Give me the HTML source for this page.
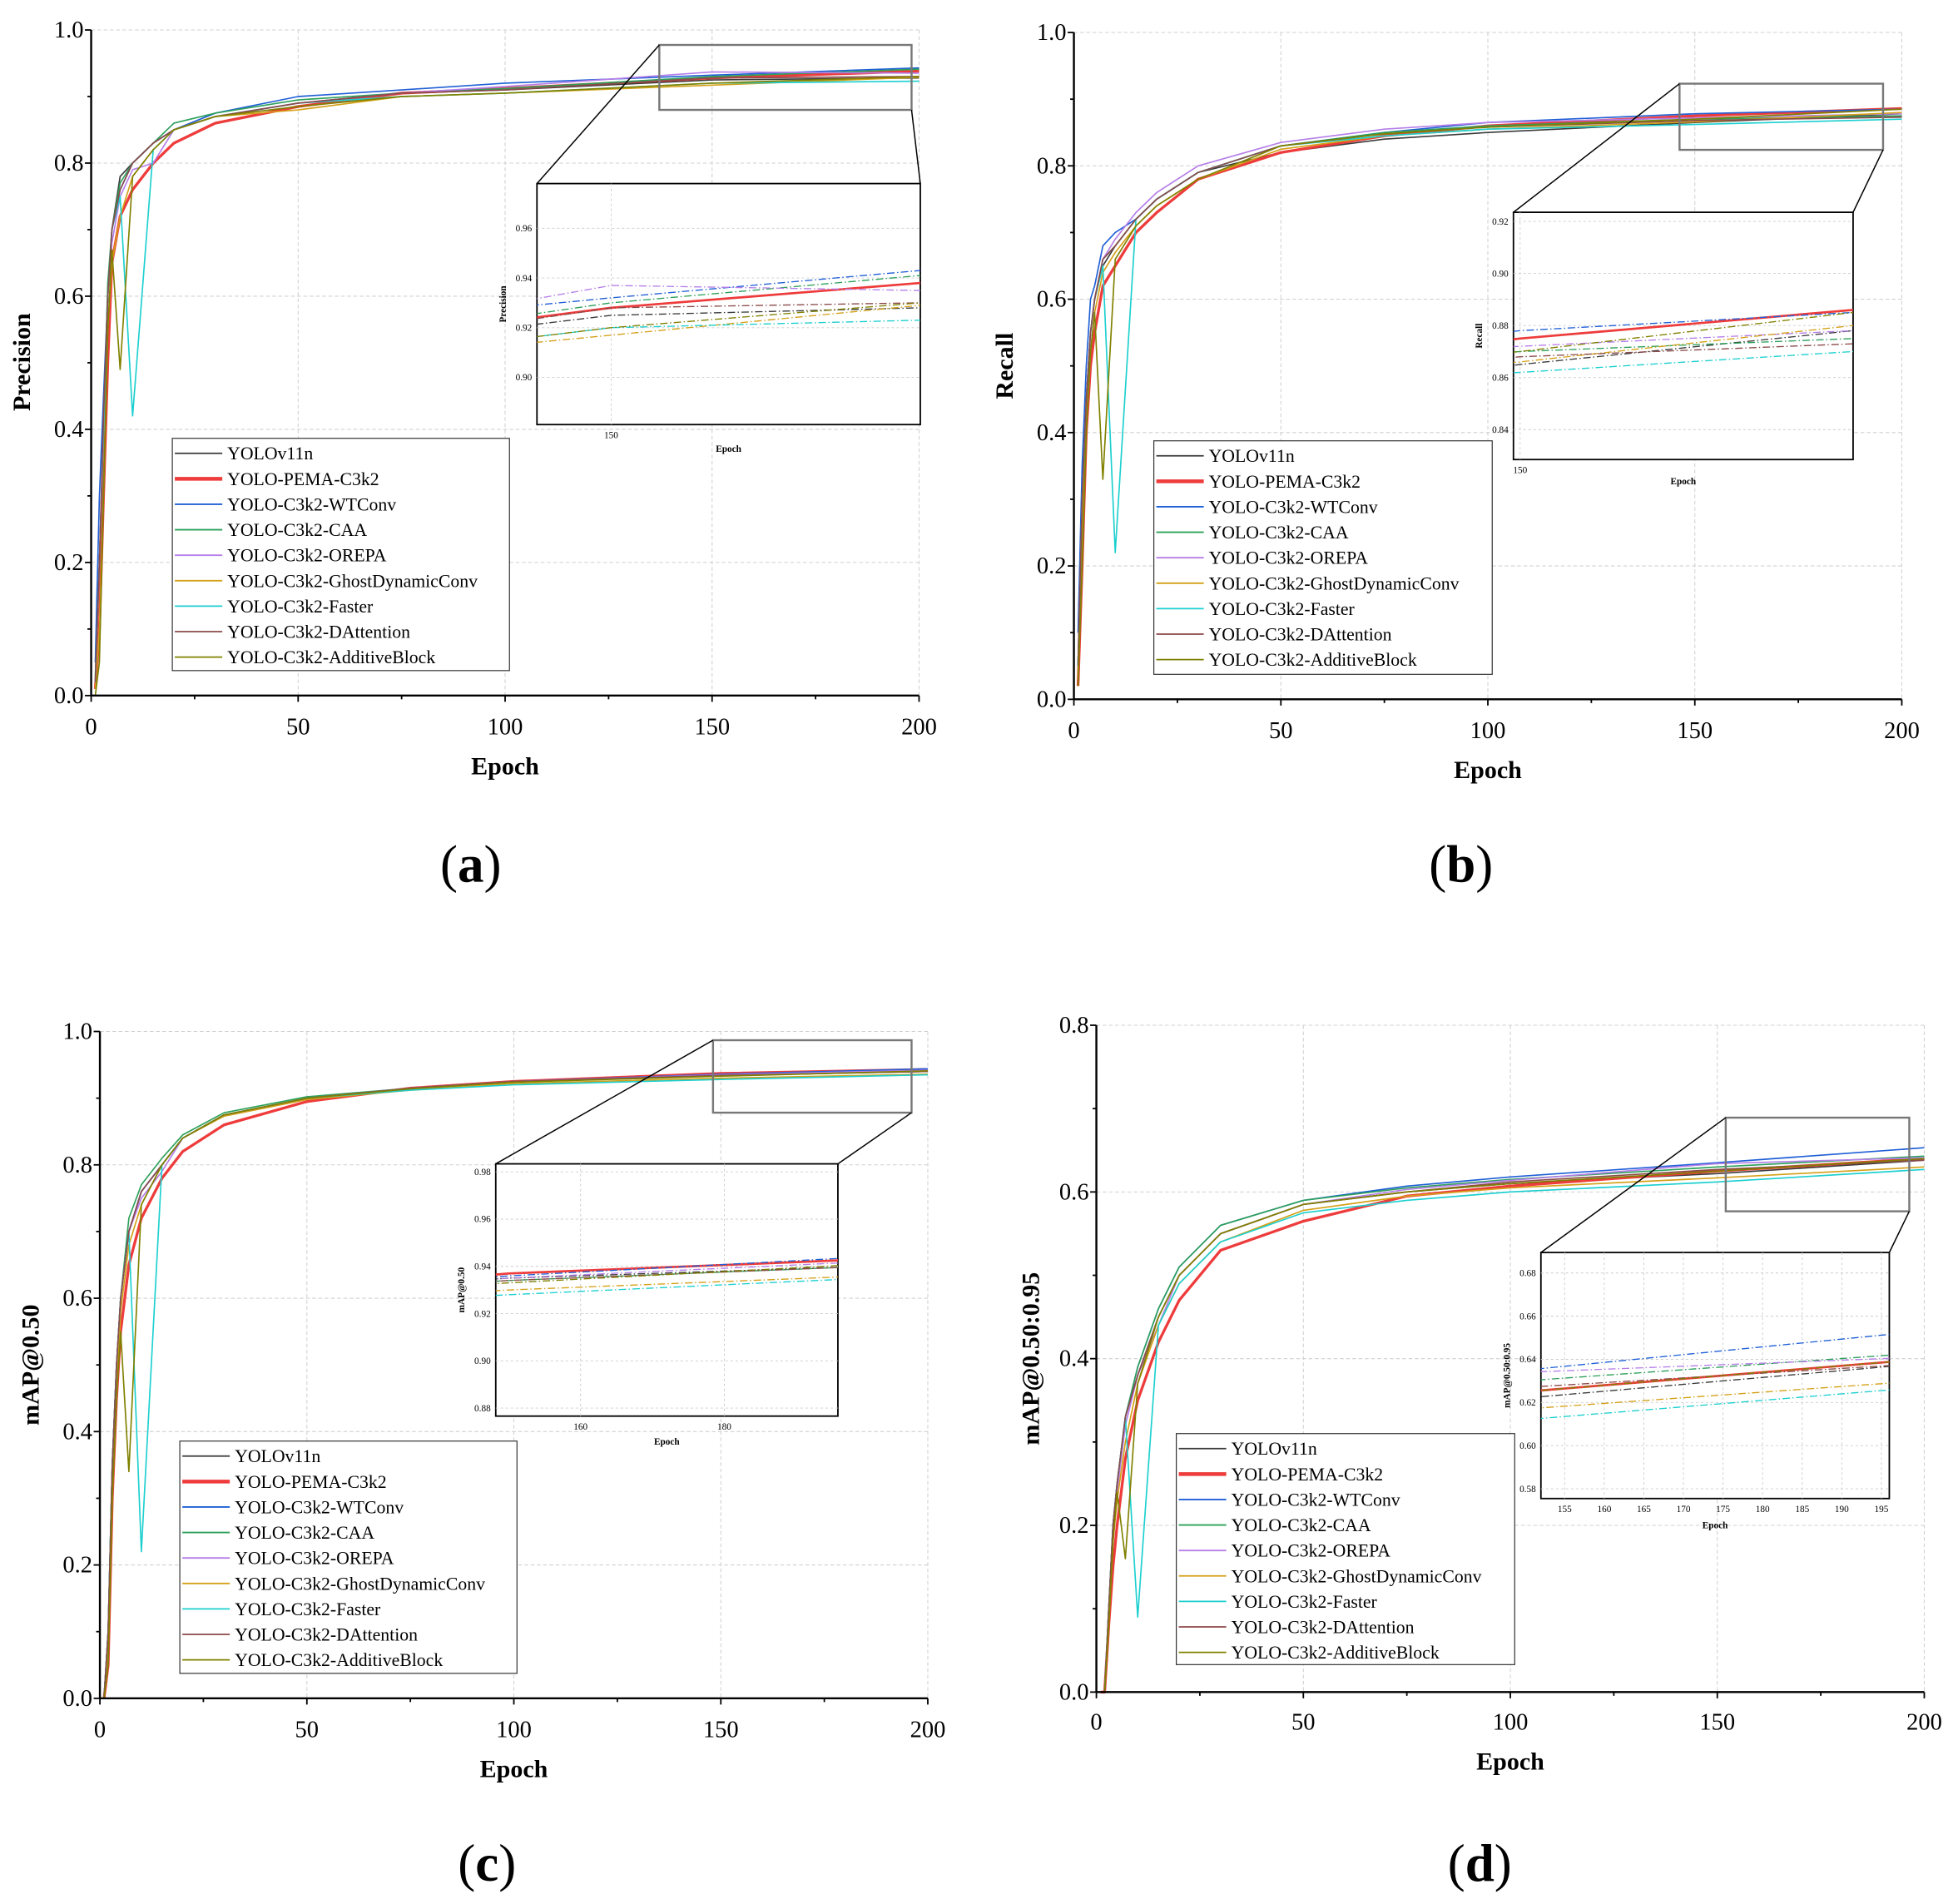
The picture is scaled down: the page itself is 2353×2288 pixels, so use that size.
<!DOCTYPE html>
<html><head><meta charset="utf-8"><style>
html,body{margin:0;padding:0;background:#fff;width:2353px;height:2288px;overflow:hidden;position:relative}
svg{display:block;position:absolute;left:0;top:0}
text{font-family:"Liberation Serif",serif;fill:#000}
</style></head><body>
<svg id="fig" width="2353" height="2288" viewBox="0 0 1568 1524.7" xmlns="http://www.w3.org/2000/svg"></svg>
<script>
const epochs=[1,2,3,4,5,7,10,15,20,30,50,75,100,150,200];
const seriesNames=["YOLOv11n","YOLO-PEMA-C3k2","YOLO-C3k2-WTConv","YOLO-C3k2-CAA","YOLO-C3k2-OREPA","YOLO-C3k2-GhostDynamicConv","YOLO-C3k2-Faster","YOLO-C3k2-DAttention","YOLO-C3k2-AdditiveBlock"];
const precisionV11n=[.02,.2,.4,.6,.7,.78,.8,.83,.85,.87,.89,.905,.91,.925,.928];
const precisionPema=[.01,.1,.3,.5,.65,.72,.76,.8,.83,.86,.885,.905,.912,.928,.938];
const precisionWt=[.05,.3,.45,.6,.7,.76,.8,.83,.85,.875,.9,.91,.92,.932,.943];
const precisionCaa=[.03,.2,.4,.62,.7,.77,.8,.83,.86,.875,.895,.905,.912,.93,.941];
const precisionOrepa=[.02,.2,.4,.6,.68,.75,.79,.8,.85,.87,.89,.905,.915,.937,.935];
const precisionGhost=[.01,.1,.3,.55,.65,.72,.78,.82,.85,.87,.88,.9,.905,.917,.929];
const precisionFaster=[.02,.2,.4,.6,.7,.75,.42,.82,.85,.87,.89,.9,.905,.92,.923];
const precisionDatt=[.02,.2,.42,.6,.7,.76,.8,.83,.85,.87,.89,.905,.91,.928,.93];
const precisionAdd=[0,.05,.3,.55,.67,.49,.78,.82,.85,.87,.885,.9,.905,.92,.93];
const recallV11n=[.05,.3,.45,.55,.6,.65,.68,.72,.75,.79,.82,.84,.85,.865,.878];
const recallPema=[.02,.2,.4,.5,.55,.62,.65,.7,.73,.78,.82,.845,.86,.875,.886];
const recallWt=[.1,.35,.5,.6,.62,.68,.7,.72,.75,.79,.83,.85,.865,.878,.885];
const recallCaa=[.05,.3,.45,.55,.6,.66,.68,.72,.75,.79,.83,.85,.86,.87,.875];
const recallOrepa=[.05,.3,.45,.55,.6,.66,.69,.73,.76,.8,.835,.855,.865,.872,.878];
const recallGhost=[.03,.25,.4,.52,.58,.64,.67,.71,.74,.78,.825,.845,.855,.866,.88];
const recallFaster=[.05,.3,.45,.55,.6,.65,.22,.72,.75,.79,.83,.845,.855,.862,.87];
const recallDatt=[.05,.3,.45,.55,.6,.66,.68,.72,.75,.79,.83,.848,.858,.868,.873];
const recallAdd=[.02,.2,.4,.52,.58,.33,.66,.71,.74,.78,.83,.848,.858,.87,.885];
const map50V11n=[0,.1,.35,.5,.6,.7,.76,.8,.84,.875,.9,.915,.925,.935,.94];
const map50Pema=[0,.05,.3,.45,.55,.65,.72,.78,.82,.86,.895,.915,.925,.937,.943];
const map50Wt=[0,.1,.35,.5,.6,.7,.76,.8,.84,.875,.9,.915,.925,.936,.944];
const map50Caa=[0,.1,.35,.5,.6,.72,.77,.81,.845,.878,.902,.915,.925,.934,.94];
const map50Orepa=[0,.1,.33,.5,.6,.7,.75,.79,.84,.875,.9,.915,.925,.935,.942];
const map50Ghost=[0,.08,.3,.45,.58,.68,.74,.8,.84,.873,.898,.912,.922,.93,.936];
const map50Faster=[0,.1,.35,.5,.6,.7,.22,.8,.84,.875,.9,.912,.92,.928,.935];
const map50Datt=[0,.1,.35,.5,.6,.7,.76,.8,.84,.875,.9,.915,.925,.934,.94];
const map50Add=[0,.05,.3,.45,.55,.34,.74,.8,.84,.875,.9,.914,.924,.933,.941];
const map95V11n=[0,0,.1,.2,.25,.33,.38,.45,.5,.55,.585,.6,.61,.622,.638];
const map95Pema=[0,0,.08,.15,.2,.28,.35,.42,.47,.53,.565,.595,.607,.625,.64];
const map95Wt=[0,0,.1,.2,.25,.33,.39,.46,.51,.56,.59,.607,.618,.635,.653];
const map95Caa=[0,0,.1,.2,.25,.33,.39,.46,.51,.56,.59,.605,.615,.63,.643];
const map95Orepa=[0,0,.1,.18,.24,.32,.38,.44,.5,.55,.585,.603,.614,.634,.641];
const map95Ghost=[0,0,.08,.18,.23,.3,.37,.44,.49,.54,.578,.595,.605,.617,.63];
const map95Faster=[0,0,.1,.2,.25,.33,.09,.44,.49,.54,.575,.59,.6,.612,.627];
const map95Datt=[0,0,.1,.2,.25,.33,.38,.45,.5,.55,.585,.6,.612,.627,.638];
const map95Add=[0,0,.08,.18,.24,.16,.37,.45,.5,.55,.585,.6,.61,.625,.64];

const colors=["#3a3a3a","#ee3b3b","#1f5fd6","#2ca05a","#b57ee8","#d4a017","#1ccfcf","#8b4a4a","#808000"];
const NS="http://www.w3.org/2000/svg";
const svg=document.getElementById('fig');
function el(tag,attrs,parent,txt){const e=document.createElementNS(NS,tag);for(const k in attrs)e.setAttribute(k,attrs[k]);if(txt!==undefined)e.textContent=txt;(parent||svg).appendChild(e);return e;}

const panels=[
 {id:'a',title:'Precision',data:[precisionV11n,precisionPema,precisionWt,precisionCaa,precisionOrepa,precisionGhost,precisionFaster,precisionDatt,precisionAdd],
  x0:73,x1:736,yTop:24,yBot:557,ymax:1,yticks:[0,.2,.4,.6,.8,1],tlabY:581,epochY:613,yLabX:24,yLabY:290,
  inset:{x0:430,x1:737,y0:147,y1:340,e0:138,e1:200,v0:.881,v1:.978,yt:[.90,.92,.94,.96],xt:[150],epochY:362},
  zbox:[528,36,730,88],legend:[138,351,270,186],letter:[377,692]},
 {id:'b',title:'Recall',data:[recallV11n,recallPema,recallWt,recallCaa,recallOrepa,recallGhost,recallFaster,recallDatt,recallAdd],
  x0:860,x1:1523,yTop:26,yBot:560,ymax:1,yticks:[0,.2,.4,.6,.8,1],tlabY:584,epochY:616,yLabX:811,yLabY:293,
  inset:{x0:1212,x1:1484,y0:170,y1:368,e0:149,e1:200,v0:.8285,v1:.9235,yt:[.84,.86,.88,.90,.92],xt:[150],epochY:388},
  zbox:[1345,67,1508,120],legend:[924,353,271,187],letter:[1170,692]},
 {id:'c',title:'mAP@0.50',data:[map50V11n,map50Pema,map50Wt,map50Caa,map50Orepa,map50Ghost,map50Faster,map50Datt,map50Add],
  x0:80,x1:743,yTop:826,yBot:1360,ymax:1,yticks:[0,.2,.4,.6,.8,1],tlabY:1384,epochY:1416,yLabX:31,yLabY:1093,
  inset:{x0:397,x1:671,y0:932,y1:1134,e0:148.2,e1:195.8,v0:.8766,v1:.9834,yt:[.88,.90,.92,.94,.96,.98],xt:[160,180],epochY:1157},
  zbox:[571,833,730,891],legend:[144,1154,270,186],letter:[390,1492]},
 {id:'d',title:'mAP@0.50:0.95',data:[map95V11n,map95Pema,map95Wt,map95Caa,map95Orepa,map95Ghost,map95Faster,map95Datt,map95Add],
  x0:878,x1:1541,yTop:821,yBot:1355,ymax:.8,yticks:[0,.2,.4,.6,.8],tlabY:1378,epochY:1410,yLabX:832,yLabY:1088,
  inset:{x0:1234,x1:1513,y0:1003,y1:1200,e0:152,e1:196,v0:.5755,v1:.6895,yt:[.58,.60,.62,.64,.66,.68],xt:[155,160,165,170,175,180,185,190,195],epochY:1224},
  zbox:[1382,895,1529,970],legend:[942,1148,271,185],letter:[1185,1492]}
];

panels.forEach(p=>{
 const g=el('g',{});
 
 
 const sx=e=>p.x0+(e/200)*(p.x1-p.x0);
 const sy=v=>p.yBot-(v/p.ymax)*(p.yBot-p.yTop);
 [50,100,150,200].forEach(t=>el('line',{x1:sx(t),x2:sx(t),y1:p.yTop,y2:p.yBot,stroke:'#d0d0d0','stroke-width':.7,'stroke-dasharray':'3,2'},g));
 p.yticks.forEach(t=>{if(t>0)el('line',{x1:p.x0,x2:p.x1,y1:sy(t),y2:sy(t),stroke:'#d0d0d0','stroke-width':.7,'stroke-dasharray':'3,2'},g);});
 p.data.forEach((arr,i)=>{
  const pts=arr.map((v,k)=>sx(epochs[k]).toFixed(1)+','+sy(v).toFixed(1)).join(' ');
  const l=el('polyline',{points:pts,fill:'none',stroke:colors[i],'stroke-width':i===1?2.2:1.1,'stroke-linejoin':'round'},g);
  
  
 });
 el('line',{x1:p.x0,x2:p.x0,y1:p.yTop,y2:p.yBot,stroke:'#000','stroke-width':1.6},g);
 el('line',{x1:p.x0,x2:p.x1,y1:p.yBot,y2:p.yBot,stroke:'#000','stroke-width':1.6},g);
 for(let t=0;t<=200;t+=25){el('line',{x1:sx(t),x2:sx(t),y1:p.yBot,y2:p.yBot+(t%50?3:5),stroke:'#000','stroke-width':1.2},g);}
 [0,50,100,150,200].forEach(t=>el('text',{x:sx(t),y:p.tlabY+7,'font-size':19,'text-anchor':'middle'},g,String(t)));
 const step=p.yticks[1]/2;
 for(let v=0;v<=p.ymax+1e-9;v+=step){el('line',{x1:p.x0-(Math.round(v/step)%2?3:5),x2:p.x0,y1:sy(v),y2:sy(v),stroke:'#000','stroke-width':1.2},g);}
 p.yticks.forEach(t=>el('text',{x:p.x0-6,y:sy(t)+6,'font-size':19,'text-anchor':'end'},g,t.toFixed(1)));
 const xt=el('text',{x:(p.x0+p.x1)/2,y:p.epochY+7,'font-size':20,'font-weight':'bold','text-anchor':'middle'},g,'Epoch');
 
 const yt=el('text',{x:p.yLabX,y:p.yLabY,'font-size':20,'font-weight':'bold','text-anchor':'middle',transform:`rotate(-90 ${p.yLabX} ${p.yLabY})`},g,p.title);
 
 const z=p.zbox,I=p.inset;
 el('rect',{x:z[0],y:z[1],width:z[2]-z[0],height:z[3]-z[1],fill:'none',stroke:'#777','stroke-width':1.6},g);
 el('line',{x1:z[0],y1:z[1],x2:I.x0,y2:I.y0,stroke:'#000','stroke-width':1},g);
 el('line',{x1:z[2],y1:z[3],x2:I.x1,y2:I.y0,stroke:'#000','stroke-width':1},g);
 const ig=el('g',{},g);
 
 el('rect',{x:I.x0,y:I.y0,width:I.x1-I.x0,height:I.y1-I.y0,fill:'#fff',stroke:'#000','stroke-width':1.2},ig);
 const ix=e=>I.x0+(e-I.e0)/(I.e1-I.e0)*(I.x1-I.x0);
 const iy=v=>I.y1-(v-I.v0)/(I.v1-I.v0)*(I.y1-I.y0);
 const cid='clip'+p.id;
 const cp=el('clipPath',{id:cid},ig);el('rect',{x:I.x0,y:I.y0,width:I.x1-I.x0,height:I.y1-I.y0},cp);
 I.yt.forEach(t=>{el('line',{x1:I.x0,x2:I.x1,y1:iy(t),y2:iy(t),stroke:'#ccc','stroke-width':.6,'stroke-dasharray':'2,2'},ig);
  el('text',{x:I.x0-4,y:iy(t)+2.5,'font-size':7.5,'text-anchor':'end'},ig,t.toFixed(2));});
 I.xt.forEach(t=>{el('line',{x1:ix(t),x2:ix(t),y1:I.y0,y2:I.y1,stroke:'#ccc','stroke-width':.6,'stroke-dasharray':'2,2'},ig);
  el('text',{x:ix(t),y:I.y1+11,'font-size':7.5,'text-anchor':'middle'},ig,String(t));});
 const lg=el('g',{'clip-path':`url(#${cid})`},ig);
 p.data.forEach((arr,i)=>{
  const pts=arr.map((v,k)=>ix(epochs[k]).toFixed(1)+','+iy(v).toFixed(1)).join(' ');
  const l=el('polyline',{points:pts,fill:'none',stroke:colors[i],'stroke-width':i===1?1.8:.9,'stroke-dasharray':i===1?'none':'6,2,1,2'},lg);
  
  
 });
 const iyl=I.x0-25,iym=(I.y0+I.y1)/2;
 el('text',{x:iyl,y:iym,'font-size':7.5,'font-weight':'bold','text-anchor':'middle',transform:`rotate(-90 ${iyl} ${iym})`},ig,p.title);
 el('text',{x:(I.x0+I.x1)/2,y:I.epochY,'font-size':7.5,'font-weight':'bold','text-anchor':'middle'},ig,'Epoch');
 const L=p.legend;
 const leg=el('g',{},g);
 
 el('rect',{x:L[0],y:L[1],width:L[2],height:L[3],fill:'#fff',stroke:'#333','stroke-width':.8},leg);
 seriesNames.forEach((n,i)=>{
  const y=L[1]+12+i*20.4;
  const e=el('g',{},leg);
  
  el('line',{x1:L[0]+2,x2:L[0]+40,y1:y,y2:y,stroke:colors[i],'stroke-width':i===1?3:1.2},e);
  el('text',{x:L[0]+44,y:y+5,'font-size':14.5},e,n);
 });
 const lt=el('text',{x:p.letter[0],y:p.letter[1]+14,'font-size':42,'text-anchor':'middle'},g,'('+p.id+')');
 
 lt.innerHTML='(<tspan font-weight="bold">'+p.id+'</tspan>)';
});
</script>
</body></html>
